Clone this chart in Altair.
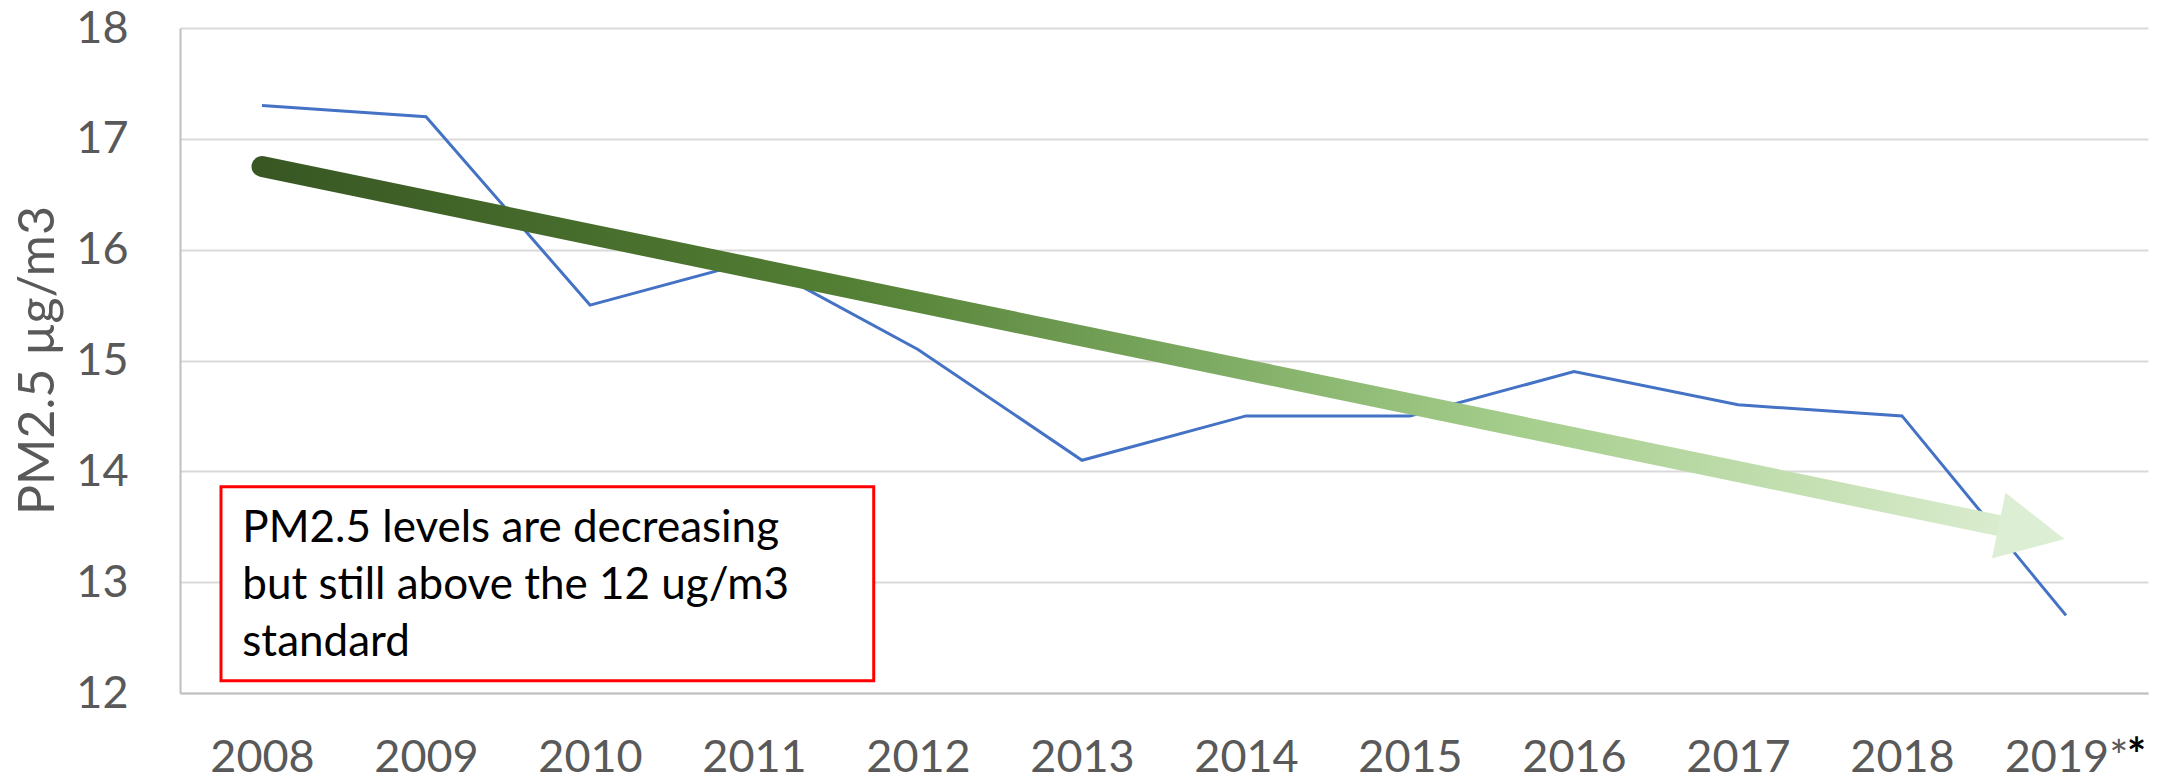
import altair as alt
import pandas as pd

# ---- data ----
years = [2008, 2009, 2010, 2011, 2012, 2013, 2014, 2015, 2016, 2017, 2018, 2019]
pm25 = [17.3, 17.2, 15.5, 15.9, 15.1, 14.1, 14.5, 14.5, 14.9, 14.6, 14.5, 12.7]

# trend arrow (start of shaft, centre of head) in data units
arrow_x = [2008, 2018.79]
arrow_y = [16.75, 13.45]

# annotation box corners and text anchor in data units
box_x = [2007.75, 2011.73]
box_y = [12.11, 13.86]
note_x = [2007.88]
note_y = [13.36]
note_lines = ["PM2.5 levels are decreasing", "but still above the 12 ug/m3", "standard"]

y_ticks = [12, 13, 14, 15, 16, 17, 18]

FONT = "Lato"
GRAY = "#595959"

df = pd.DataFrame({"year": years, "pm": pm25})
arrow_df = pd.DataFrame({"year": arrow_x, "pm": arrow_y})
head_df = pd.DataFrame({"year": [arrow_x[1]], "pm": [arrow_y[1]]})
box_df = pd.DataFrame({"x1": [box_x[0]], "x2": [box_x[1]], "y1": [box_y[0]], "y2": [box_y[1]]})
note_df = pd.DataFrame({"year": note_x, "pm": note_y})
star_df = pd.DataFrame({"year": [years[-1]]})

W, H = 1968, 665
XLAB_PAD = 78

x_scale = alt.Scale(domain=[2007.5, 2019.5], nice=False, zero=False)
y_scale = alt.Scale(domain=[12, 18], nice=False, zero=False)

x_axis = alt.Axis(
    values=years, format="d", title=None, grid=False, ticks=False,
    labelExpr="datum.value == 2019 ? '2019*' : datum.label",
    labelFont=FONT, labelFontSize=45, labelColor=GRAY, labelPadding=XLAB_PAD,
    labelBaseline="alphabetic",
    domainColor="#BFBFBF", domainWidth=2, labelFlush=False,
)
y_axis = alt.Axis(
    values=y_ticks, format="d", title="PM2.5 µg/m3", grid=True, gridColor="#D9D9D9", gridWidth=2,
    ticks=False, labelFont=FONT, labelFontSize=45, labelColor=GRAY, labelPadding=52,
    domainColor="#BFBFBF", domainWidth=2,
    titleFont=FONT, titleFontSize=50, titleColor=GRAY, titleFontWeight="normal",
    titleX=-142, titleY=332, titleAngle=270, titleAlign="center", titleBaseline="middle",
)

base = alt.Chart(df).encode(
    x=alt.X("year:Q", scale=x_scale, axis=x_axis),
    y=alt.Y("pm:Q", scale=y_scale, axis=y_axis),
)

line = base.mark_line(color="#4472C4", strokeWidth=3)

grad = alt.Gradient(
    gradient="linear",
    stops=[
        alt.GradientStop(color="#385723", offset=0),
        alt.GradientStop(color="#537F34", offset=0.33),
        alt.GradientStop(color="#7EAB63", offset=0.535),
        alt.GradientStop(color="#A4CD8B", offset=0.705),
        alt.GradientStop(color="#C5E0B3", offset=0.875),
        alt.GradientStop(color="#DDEED3", offset=1),
    ],
    x1=0, x2=1, y1=0, y2=0,
)

shaft = alt.Chart(arrow_df).mark_line(stroke=grad, strokeWidth=21, strokeCap="round").encode(
    x=alt.X("year:Q", scale=x_scale), y=alt.Y("pm:Q", scale=y_scale)
)

head = alt.Chart(head_df).mark_point(
    shape="M-1,-1L1,0L-1,1Z", size=4489, angle=11.6, filled=True,
    fill="#DCEED3", opacity=1, strokeWidth=0,
).encode(x=alt.X("year:Q", scale=x_scale), y=alt.Y("pm:Q", scale=y_scale))

box = alt.Chart(box_df).mark_rect(fill="white", stroke="#FF0000", strokeWidth=3).encode(
    x=alt.X("x1:Q", scale=x_scale), x2="x2:Q",
    y=alt.Y("y1:Q", scale=y_scale), y2="y2:Q",
)

note = alt.Chart(note_df).mark_text(
    text=note_lines, align="left", baseline="alphabetic", font=FONT,
    fontSize=44, lineHeight=57, color="black",
).encode(x=alt.X("year:Q", scale=x_scale), y=alt.Y("pm:Q", scale=y_scale))

star = alt.Chart(star_df).mark_text(
    text="*", align="left", baseline="alphabetic", font=FONT, fontSize=45,
    fontWeight="bold", color="black", dx=61,
).encode(x=alt.X("year:Q", scale=x_scale), y=alt.value(H + XLAB_PAD))

chart = alt.layer(line, shaft, head, box, note, star).properties(
    width=W, height=H,
    autosize=alt.AutoSizeParams(type="none"),
    padding={"left": 172, "top": 20, "right": 20, "bottom": 89},
).configure_view(stroke=None)

chart.save("out.html", embed_options={"renderer": "svg", "actions": False})
